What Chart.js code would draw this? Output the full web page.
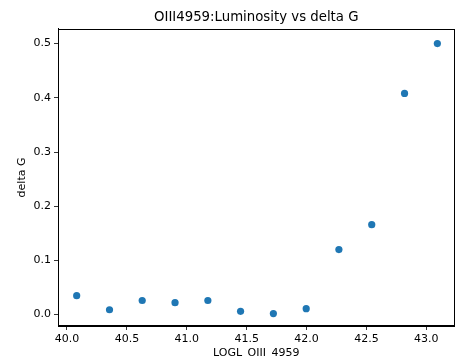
<!DOCTYPE html>
<html>
<head>
<meta charset="utf-8">
<script src="https://cdn.jsdelivr.net/npm/chart.js@4/dist/chart.umd.min.js"></script>
<style>
  html, body { margin: 0; padding: 0; overflow: hidden; background: #fff; }
  #wrap { width: 456px; height: 364px; position: relative; }
</style>
</head>
<body>
<div id="wrap"><canvas id="c" width="456" height="364"></canvas></div>
<script>
const titleText = 'OIII4959:Luminosity vs delta G';
const xLabel = 'LOGL_OIII_4959';
const yLabel = 'delta G';
const logL = [40.081, 40.355, 40.628, 40.902, 41.176, 41.449, 41.723, 41.997, 42.270, 42.544, 42.818, 43.092];
const deltaG = [0.035, 0.009, 0.026, 0.022, 0.026, 0.006, 0.002, 0.011, 0.120, 0.166, 0.408, 0.500];
const xTicks = [40.0, 40.5, 41.0, 41.5, 42.0, 42.5, 43.0];
const yTicks = [0.0, 0.1, 0.2, 0.3, 0.4, 0.5];

const font = 'DejaVu Sans';
const boxPlugin = {
  id: 'box',
  afterDraw(chart) {
    const a = chart.chartArea, ctx = chart.ctx;
    ctx.save();
    ctx.strokeStyle = '#000';
    ctx.lineWidth = 1;
    ctx.strokeRect(Math.round(a.left) + 0.5, Math.round(a.top) + 0.5,
                   Math.round(a.right - a.left) - 1, Math.round(a.bottom - a.top));
    ctx.restore();
  }
};

new Chart(document.getElementById('c'), {
  type: 'scatter',
  data: {
    datasets: [{
      data: logL.map((x, i) => ({ x: x, y: deltaG[i] })),
      backgroundColor: '#1f77b4',
      borderColor: '#1f77b4',
      pointRadius: 3.6,
      pointHoverRadius: 3.6,
      borderWidth: 0
    }]
  },
  options: {
    responsive: false,
    animation: false,
    layout: { autoPadding: false, padding: { left: 0, right: 1.5, top: 0, bottom: 0 } },
    plugins: {
      legend: { display: false },
      tooltip: { enabled: false },
      title: {
        display: true,
        text: titleText,
        fullSize: false,
        color: '#000',
        font: { family: font, size: 13.3, weight: 'normal' },
        padding: { top: 10, bottom: 3 }
      }
    },
    scales: {
      x: {
        type: 'linear',
        min: 39.925, max: 43.235,
        afterBuildTicks(s) { s.ticks = xTicks.map(v => ({ value: v })); },
        afterFit(s) { s.height = 38; s.paddingLeft = 0; s.paddingRight = 0; },
        ticks: {
          color: '#000',
          font: { family: font, size: 11 },
          padding: 3,
          maxRotation: 0,
          autoSkip: false,
          callback: v => Number(v).toFixed(1)
        },
        grid: { drawOnChartArea: false, drawTicks: true, tickLength: 4, color: '#000', tickWidth: 0.8 },
        border: { display: true, color: '#000', width: 1 },
        title: {
          display: true, text: xLabel, color: '#000',
          font: { family: font, size: 11 },
          padding: { top: 0, bottom: 4.4 }
        }
      },
      y: {
        type: 'linear',
        min: -0.021, max: 0.527,
        afterBuildTicks(s) { s.ticks = yTicks.map(v => ({ value: v })); },
        afterFit(s) { s.width = 58; s.paddingTop = 0; s.paddingBottom = 0; },
        ticks: {
          color: '#000',
          font: { family: font, size: 11 },
          padding: 3,
          autoSkip: false,
          callback: v => Number(v).toFixed(1)
        },
        grid: { drawOnChartArea: false, drawTicks: true, tickLength: 4, color: '#000', tickWidth: 0.8 },
        border: { display: true, color: '#000', width: 1 },
        title: {
          display: true, text: yLabel, color: '#000',
          font: { family: font, size: 11 },
          padding: { top: 15.4, bottom: 0 }
        }
      }
    }
  },
  plugins: [boxPlugin]
});
</script>
</body>
</html>
